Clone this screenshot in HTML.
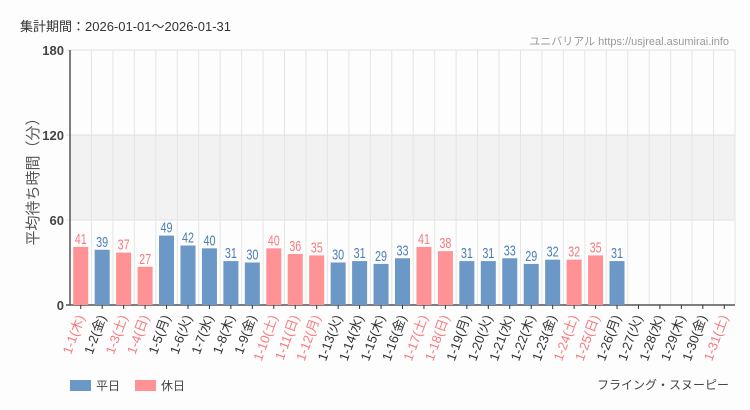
<!DOCTYPE html>
<html><head><meta charset="utf-8"><style>
body{margin:0;background:#fcfdfc;font-family:"Liberation Sans","Noto Sans CJK JP",sans-serif;}
svg{display:block}
</style></head><body>
<svg id="c" width="750" height="410" font-family="Liberation Sans, Noto Sans CJK JP, sans-serif">
<rect width="750" height="410" fill="#fcfdfc"/>
<text x="20" y="31" font-size="13" fill="#333">集計期間：2026-01-01～2026-01-31</text>
<text x="729" y="45" font-size="11" fill="#999" text-anchor="end">ユニバリアル  https://usjreal.asumirai.info</text>
<text x="729" y="389" font-size="12" fill="#444" text-anchor="end">フライング・スヌーピー</text>
<text transform="translate(38,178) rotate(-90)" font-size="15" fill="#555" text-anchor="middle">平均待ち時間（分）</text>
<g id="plot"></g>
<g>
<rect x="70" y="380" width="21" height="11" fill="#6b98c6"/>
<text x="96" y="390" font-size="12" fill="#444">平日</text>
<rect x="135" y="380" width="21" height="11" fill="#fe9294"/>
<text x="161" y="390" font-size="12" fill="#444">休日</text>
</g>
</svg>
<script>
const days=["1-1","1-2","1-3","1-4","1-5","1-6","1-7","1-8","1-9","1-10","1-11","1-12","1-13","1-14","1-15","1-16","1-17","1-18","1-19","1-20","1-21","1-22","1-23","1-24","1-25","1-26","1-27","1-28","1-29","1-30","1-31"];
const weekdays=["木","金","土","日","月","火","水","木","金","土","日","月","火","水","木","金","土","日","月","火","水","木","金","土","日","月","火","水","木","金","土"];
const holidays=[1,0,1,1,0,0,0,0,0,1,1,1,0,0,0,0,1,1,0,0,0,0,0,1,1,0,0,0,0,0,1];
const values=[41,39,37,27,49,42,40,31,30,40,36,35,30,31,29,33,41,38,31,31,33,29,32,32,35,31,null,null,null,null,null];
const yTicks=[0,60,120,180];
const NS="http://www.w3.org/2000/svg";
const g=document.getElementById('plot');
const X0=70,X1=735,Y0=305,Y1=50,YMAX=180;
const bw=(X1-X0)/days.length;
const y=v=>Y0-(v/YMAX)*(Y0-Y1);
const xc=i=>X0+bw*(i+0.5);
function mk(t,a){const e=document.createElementNS(NS,t);for(const k in a)e.setAttribute(k,a[k]);g.appendChild(e);return e;}
let band=mk('rect',{x:X0,y:y(120),width:X1-X0,height:y(60)-y(120),fill:'#f1f2f1'});


for(let i=0;i<=days.length;i++){const l=mk('line',{x1:X0+bw*i,x2:X0+bw*i,y1:Y1,y2:Y0,stroke:'#e4e6e4','stroke-width':1});

}
yTicks.forEach(t=>{const l=mk('line',{x1:X0-4,x2:X1,y1:y(t),y2:y(t),stroke:t===0?'#555':'#e0e2e0','stroke-width':t===0?1.5:1});


const tx=mk('text',{x:X0-6,y:y(t)+5,'font-size':13,'font-weight':'bold',fill:'#444','text-anchor':'end'});tx.textContent=t;

});
const ax=mk('line',{x1:X0,x2:X0,y1:Y1,y2:Y0,stroke:'#555','stroke-width':1.5});


days.forEach((d,i)=>{
 const col=holidays[i]?'#fe9294':'#6b98c6';const tcol=holidays[i]?'#f77b80':'#4a7fb5';
 const v=values[i];
 if(v!=null){
  const r=mk('rect',{x:xc(i)-7.5,y:y(v),width:15,height:Y0-y(v),fill:col});
  
  
  const ty=y(v)-3;
  const t=mk('text',{x:0,y:0,'font-size':15,fill:tcol,'text-anchor':'middle',transform:`translate(${xc(i)},${ty}) scale(0.72,1)`});t.textContent=v;
  
  
 }
 const tk=mk('line',{x1:xc(i),x2:xc(i),y1:Y0,y2:Y0+4,stroke:'#333'});
 
 
 const lb=mk('text',{transform:`translate(${xc(i)+4},${Y0+12}) rotate(-70)`,'font-size':13,fill:holidays[i]?'#f77b80':'#333','text-anchor':'end'});
 lb.textContent=d+'('+weekdays[i]+')';
 
 
});
</script>
</body></html>
